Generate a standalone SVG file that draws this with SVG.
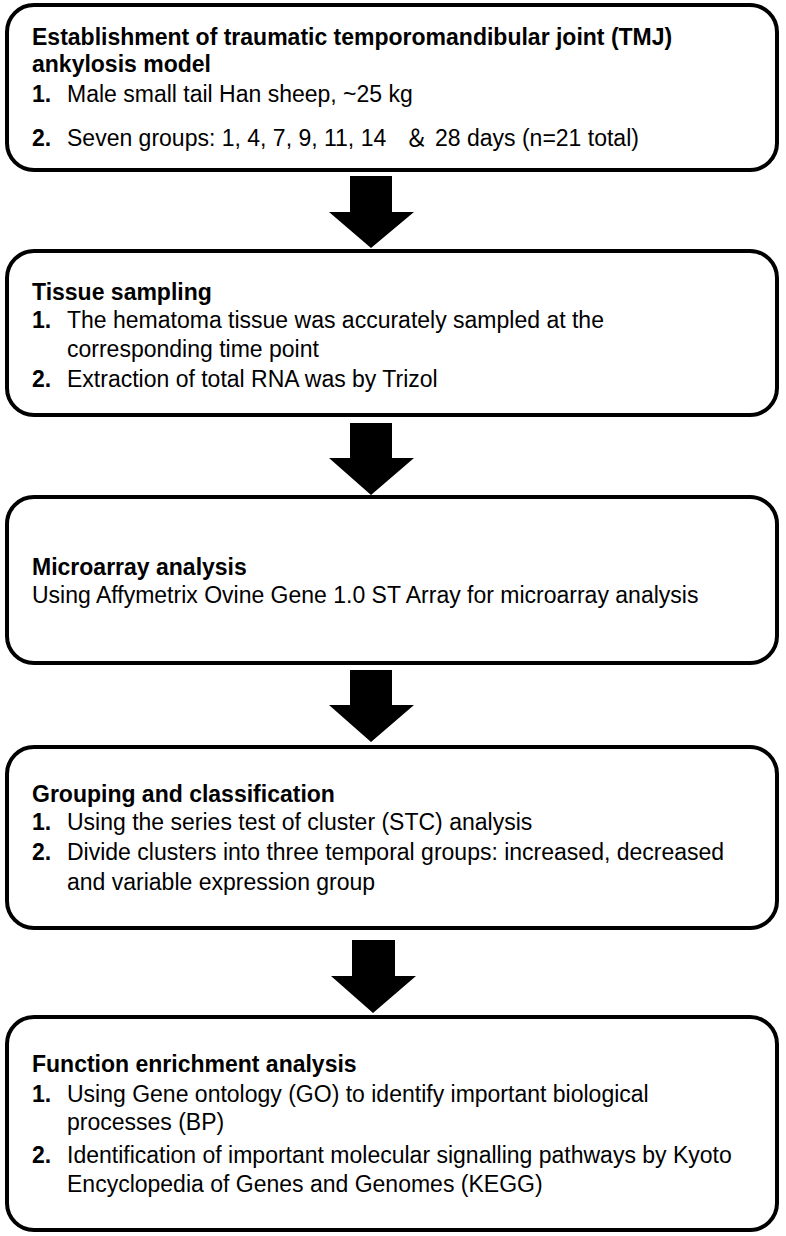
<svg xmlns="http://www.w3.org/2000/svg" width="786" height="1236" viewBox="0 0 786 1236">
<style>
.box{fill:#fff;stroke:#000;stroke-width:4}
.t{font-family:"Liberation Sans",Arial,"Noto Sans CJK SC",sans-serif;font-size:23px;fill:#000}
.b{font-weight:bold}
.arr{fill:#000}
</style>
<rect width="786" height="1236" fill="#fff"/>
<g id="connectors">
<polygon class="arr" points="350,176 392,176 392,212 414,212 371,248 329,212 350,212"/>
<polygon class="arr" points="350,423 392,423 392,458 414,458 371,495 329,458 350,458"/>
<polygon class="arr" points="350,670 392,670 392,705 414,705 371,742 329,705 350,705"/>
<polygon class="arr" points="352,940 395,940 395,976 416,976 373,1013 331,976 352,976"/>
</g>
<g id="node1">
<rect class="box" x="7" y="5" width="770" height="165" rx="27"/>
<text class="t b" x="32" y="45">Establishment of traumatic temporomandibular joint (TMJ)</text>
<text class="t b" x="32" y="72">ankylosis model</text>
<text class="t" y="102"><tspan class="b" x="32">1.</tspan><tspan x="67">Male small tail Han sheep, ~25 kg</tspan></text>
<text class="t" y="146"><tspan class="b" x="32">2.</tspan><tspan x="67">Seven groups: 1, 4, 7, 9, 11, 14</tspan><tspan x="405">＆</tspan><tspan x="435">28 days (n=21 total)</tspan></text>
</g>
<g id="node2">
<rect class="box" x="7" y="251" width="770" height="164" rx="27"/>
<text class="t b" x="32" y="300">Tissue sampling</text>
<text class="t" y="328"><tspan class="b" x="32">1.</tspan><tspan x="67">The hematoma tissue was accurately sampled at the</tspan></text>
<text class="t" x="67" y="357">corresponding time point</text>
<text class="t" y="387"><tspan class="b" x="32">2.</tspan><tspan x="67">Extraction of total RNA was by Trizol</tspan></text>
</g>
<g id="node3">
<rect class="box" x="7" y="497" width="770" height="166" rx="27"/>
<text class="t b" x="32" y="575">Microarray analysis</text>
<text class="t" x="32" y="603">Using Affymetrix Ovine Gene 1.0 ST Array for microarray analysis</text>
</g>
<g id="node4">
<rect class="box" x="7" y="747" width="770" height="181" rx="27"/>
<text class="t b" x="32" y="802">Grouping and classification</text>
<text class="t" y="830"><tspan class="b" x="32">1.</tspan><tspan x="67">Using the series test of cluster (STC) analysis</tspan></text>
<text class="t" y="860"><tspan class="b" x="32">2.</tspan><tspan x="67">Divide clusters into three temporal groups: increased, decreased</tspan></text>
<text class="t" x="67" y="890">and variable expression group</text>
</g>
<g id="node5">
<rect class="box" x="7" y="1017" width="770" height="213" rx="27"/>
<text class="t b" x="32" y="1072">Function enrichment analysis</text>
<text class="t" y="1102"><tspan class="b" x="32">1.</tspan><tspan x="67">Using Gene ontology (GO) to identify important biological</tspan></text>
<text class="t" x="67" y="1130">processes (BP)</text>
<text class="t" y="1163"><tspan class="b" x="32">2.</tspan><tspan x="67">Identification of important molecular signalling pathways by Kyoto</tspan></text>
<text class="t" x="67" y="1192">Encyclopedia of Genes and Genomes (KEGG)</text>
</g>
</svg>
